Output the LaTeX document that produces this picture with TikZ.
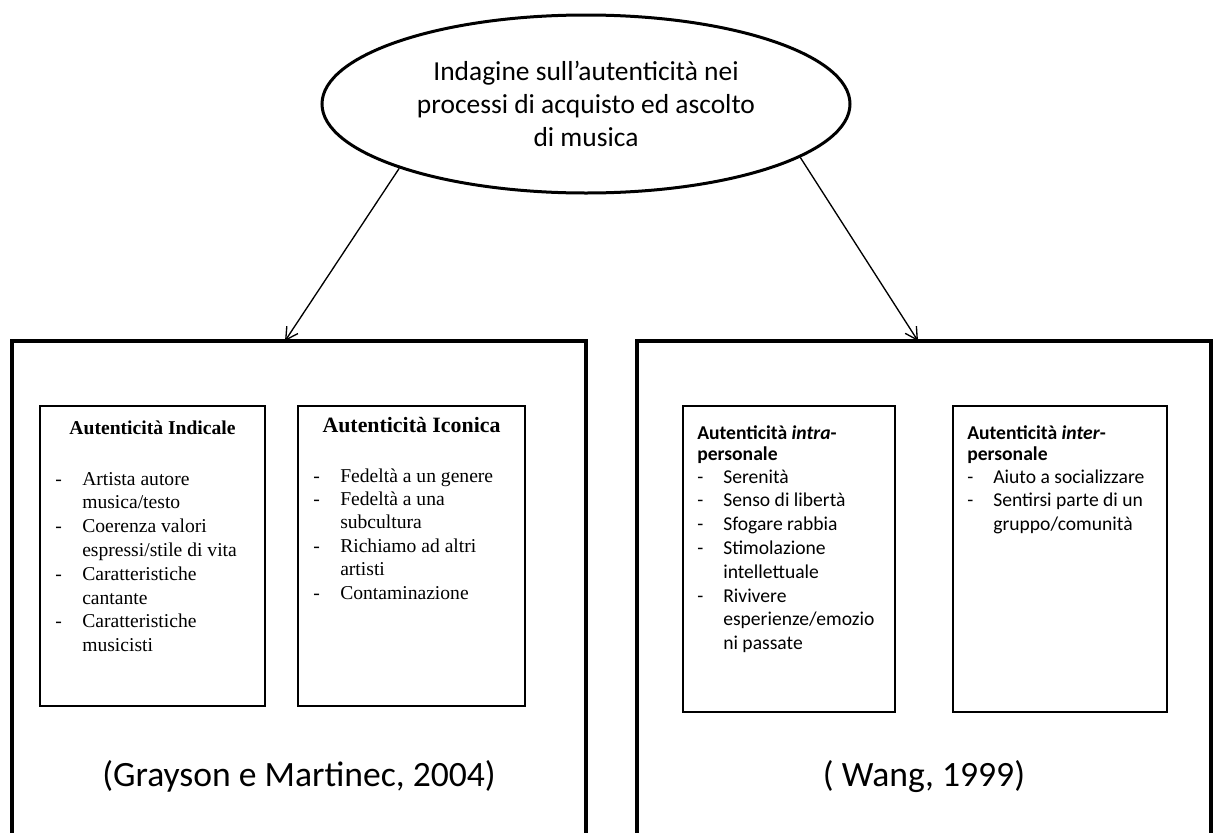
\documentclass[tikz,border=0pt]{standalone}
\usepackage{fontspec}
\setmainfont{Carlito}
\newfontfamily\serifface{Liberation Serif}
\usetikzlibrary{arrows.meta,shapes.geometric}
% one drawing unit = one pixel of the layout grid
\newlength\pxu
\setlength\pxu{0.75pt}
\newcommand\bodysize{\fontsize{14.7pt}{17.85pt}\selectfont}

\tikzset{
  outerbox/.style={draw, line width=2.3pt, rectangle, outer sep=0pt, inner sep=0pt,
    anchor=north west, minimum width=574\pxu, minimum height=620\pxu},
  innerbox/.style={draw, line width=2pt, rectangle, outer sep=0pt, inner sep=0pt,
    anchor=north west},
  topic/.style={draw, ellipse, line width=2.25pt, minimum width=528\pxu,
    minimum height=178\pxu, inner sep=0pt, align=center,
    font=\fontsize{20.6pt}{25pt}\selectfont},
  link/.style={-{Straight Barb[length=9pt,width=10pt]}, line width=1pt},
  serifhead/.style={anchor=base, inner sep=0pt, font=\serifface\bfseries\bodysize},
  seriflist/.style={anchor=base west, inner sep=0pt, font=\serifface\bodysize},
  sanshead/.style={anchor=base west, inner sep=0pt,
    font=\bfseries\fontsize{14.7pt}{15.75pt}\selectfont},
  sanslist/.style={anchor=base west, inner sep=0pt, font=\bodysize},
  cite/.style={anchor=base, inner sep=0pt, font=\fontsize{26.7pt}{32pt}\selectfont},
}

\begin{document}
\begin{tikzpicture}[x=0.75pt, y=-0.75pt]
  \path[use as bounding box] (0,0) rectangle (1214,832);
  \clip (0,0) rectangle (1214,832);

  % central topic
  \node[topic] (topic) at (586,104)
    {Indagine sull’autenticità nei\\processi di acquisto ed ascolto\\di musica};

  % the two frameworks
  \node[outerbox] (lbox) at (12,341) {};
  \node[outerbox] (rbox) at (637,341) {};

  \draw[link] (topic.199.3) -- ([xshift=273\pxu]lbox.north west);
  \draw[link] (topic.346.3) -- ([xshift=281\pxu]rbox.north west);

  % Grayson e Martinec
  \node[innerbox, minimum width=225\pxu, minimum height=300\pxu] (indicale) at (40,406) {};
  \node[innerbox, minimum width=227\pxu, minimum height=300\pxu] (iconica) at (298,406) {};

  \node[serifhead] (indicaleT) at (152.5,434) {Autenticità Indicale};
  \node[seriflist] (indicaleL) at (55,485) {\begin{tabular}[t]{@{}p{27\pxu}@{}l@{}}
    -&Artista autore\\
     &musica/testo\\
    -&Coerenza valori\\
     &espressi/stile di vita\\
    -&Caratteristiche\\
     &cantante\\
    -&Caratteristiche\\
     &musicisti
  \end{tabular}};

  \node[serifhead, font=\serifface\bfseries\fontsize{16.4pt}{19pt}\selectfont]
    (iconicaT) at (411.5,432) {Autenticità Iconica};
  \node[seriflist, font=\serifface\fontsize{14.7pt}{17.6pt}\selectfont]
    (iconicaL) at (313,482) {\begin{tabular}[t]{@{}p{27\pxu}@{}l@{}}
    -&Fedeltà a un genere\\
    -&Fedeltà a una\\
     &subcultura\\
    -&Richiamo ad altri\\
     &artisti\\
    -&Contaminazione
  \end{tabular}};

  % Wang
  \node[innerbox, minimum width=212\pxu, minimum height=306\pxu] (intra) at (683,406) {};
  \node[innerbox, minimum width=214\pxu, minimum height=306\pxu] (inter) at (953,406) {};

  \node[sanshead] (intraT) at (697,439) {\begin{tabular}[t]{@{}l@{}}
    Autenticità \textit{intra}-\\personale\end{tabular}};
  \node[sanslist] (intraL) at (697,483) {\begin{tabular}[t]{@{}p{26\pxu}@{}l@{}}
    -&Serenità\\
    -&Senso di libertà\\
    -&Sfogare rabbia\\
    -&Stimolazione\\
     &intellettuale\\
    -&Rivivere\\
     &esperienze/emozio\\
     &ni passate
  \end{tabular}};

  \node[sanshead] (interT) at (967,439) {\begin{tabular}[t]{@{}l@{}}
    Autenticità \textit{inter}-\\personale\end{tabular}};
  \node[sanslist] (interL) at (967,483) {\begin{tabular}[t]{@{}p{26\pxu}@{}l@{}}
    -&Aiuto a socializzare\\
    -&Sentirsi parte di un\\
     &gruppo/comunità
  \end{tabular}};

  % sources
  \node[cite] (citeL) at (299,786) {(Grayson e Martinec, 2004)};
  \node[cite] (citeR) at (924,786) {( Wang, 1999)};
\end{tikzpicture}
\end{document}
